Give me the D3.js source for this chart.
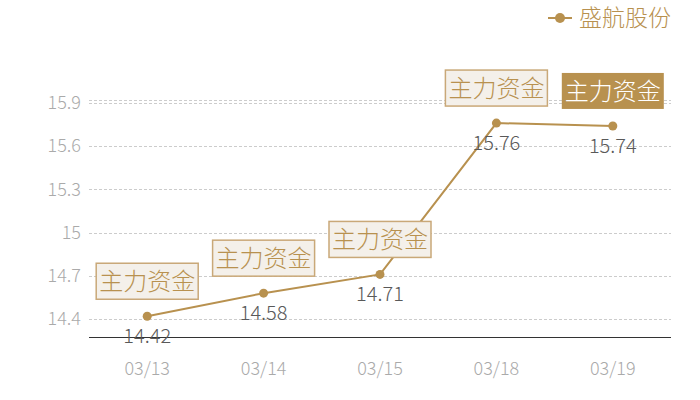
<!DOCTYPE html>
<html>
<head>
<meta charset="utf-8">
<script src="https://cdn.jsdelivr.net/npm/d3@7"></script>
<style>
body { margin: 0; background: #fff; }
text { font-family: "Noto Sans CJK SC", "Noto Sans", sans-serif; font-weight: 300; }
</style>
</head>
<body>
<div id="chart"></div>
<script>
// data
const dates = ["03/13", "03/14", "03/15", "03/18", "03/19"]
const prices = [14.42, 14.58, 14.71, 15.76, 15.74]
const yTicks = [14.4, 14.7, 15, 15.3, 15.6, 15.9]
const seriesName = "盛航股份"
const tagText = "主力资金"

// const
const width = 700
const height = 400
const margin = { top: 100, bottom: 63, left: 89, right: 29 }
const gold = "#b8914f"

const svg = d3.select("#chart")
  .append("svg")
    .attr("width", width)
    .attr("height", height)

const x = d3.scaleBand()
  .domain(dates)
  .range([margin.left, width - margin.right])

const y = d3.scaleLinear()
  .domain([14.276, 15.92])
  .range([height - margin.bottom, margin.top])

const cx = d => x(d) + x.bandwidth() / 2

// grid
svg.append("g")
  .selectAll("line")
  .data(yTicks.concat([15.92]))
  .join("line")
    .attr("x1", margin.left)
    .attr("x2", width - margin.right)
    .attr("y1", d => Math.round(y(d)) + 0.5)
    .attr("y2", d => Math.round(y(d)) + 0.5)
    .attr("stroke", "#ccc")
    .attr("stroke-dasharray", "3,2")

// y axis labels
const yAxis = d3.axisLeft(y).tickValues(yTicks).tickSize(0).tickPadding(8)
  .tickFormat(d => String(d))
svg.append("g")
  .attr("transform", `translate(${margin.left},0)`)
  .call(yAxis)
  .call(g => g.select(".domain").remove())
  .call(g => g.selectAll("text").attr("fill", "#aaa").attr("font-size", 18)
    .attr("font-family", "'Noto Sans CJK SC', sans-serif"))

// x axis
const xAxis = d3.axisBottom(x).tickSize(0).tickPadding(25)
svg.append("g")
  .attr("transform", `translate(0,${height - margin.bottom})`)
  .call(xAxis)
  .call(g => g.select(".domain").attr("stroke", "#333").attr("d", `M${margin.left},0.5H${width - margin.right}`))
  .call(g => g.selectAll("text").attr("fill", "#aaa").attr("font-size", 18)
    .attr("font-family", "'Noto Sans CJK SC', sans-serif"))

// line
const line = d3.line()
  .x((d, i) => cx(dates[i]))
  .y(d => y(d))
svg.append("path")
  .datum(prices)
  .attr("fill", "none")
  .attr("stroke", gold)
  .attr("stroke-width", 2)
  .attr("d", line)

svg.append("g")
  .selectAll("circle")
  .data(prices)
  .join("circle")
    .attr("cx", (d, i) => cx(dates[i]))
    .attr("cy", d => y(d))
    .attr("r", 4.5)
    .attr("fill", gold)

// value labels
svg.append("g")
  .selectAll("text")
  .data(prices)
  .join("text")
    .attr("x", (d, i) => cx(dates[i]))
    .attr("y", d => y(d) + 27)
    .attr("text-anchor", "middle")
    .attr("fill", "#595959")
    .attr("font-size", 20)
    .text(d => d.toFixed(2))

// tags
const tags = svg.append("g")
  .selectAll("g")
  .data(prices)
  .join("g")
    .attr("transform", (d, i) => `translate(${cx(dates[i])},${y(d) - 17})`)
tags.append("rect")
  .attr("x", -51)
  .attr("y", -36)
  .attr("width", 102)
  .attr("height", 36)
  .attr("fill", (d, i) => i === prices.length - 1 ? gold : "#f4f0ea")
  .attr("stroke", (d, i) => i === prices.length - 1 ? "none" : "#c9a878")
  .attr("stroke-width", 1.5)
tags.append("text")
  .attr("y", -9)
  .attr("text-anchor", "middle")
  .attr("font-size", 24)
  .attr("fill", (d, i) => i === prices.length - 1 ? "#fff" : gold)
  .text(tagText)

// legend
const legend = svg.append("g").attr("transform", "translate(548,18)")
legend.append("line").attr("x1", 0).attr("x2", 24).attr("stroke", gold).attr("stroke-width", 2)
legend.append("circle").attr("cx", 12).attr("r", 5).attr("fill", gold)
legend.append("text")
  .attr("x", 31)
  .attr("y", 8)
  .attr("font-size", 23)
  .attr("fill", gold)
  .text(seriesName)
</script>
</body>
</html>
